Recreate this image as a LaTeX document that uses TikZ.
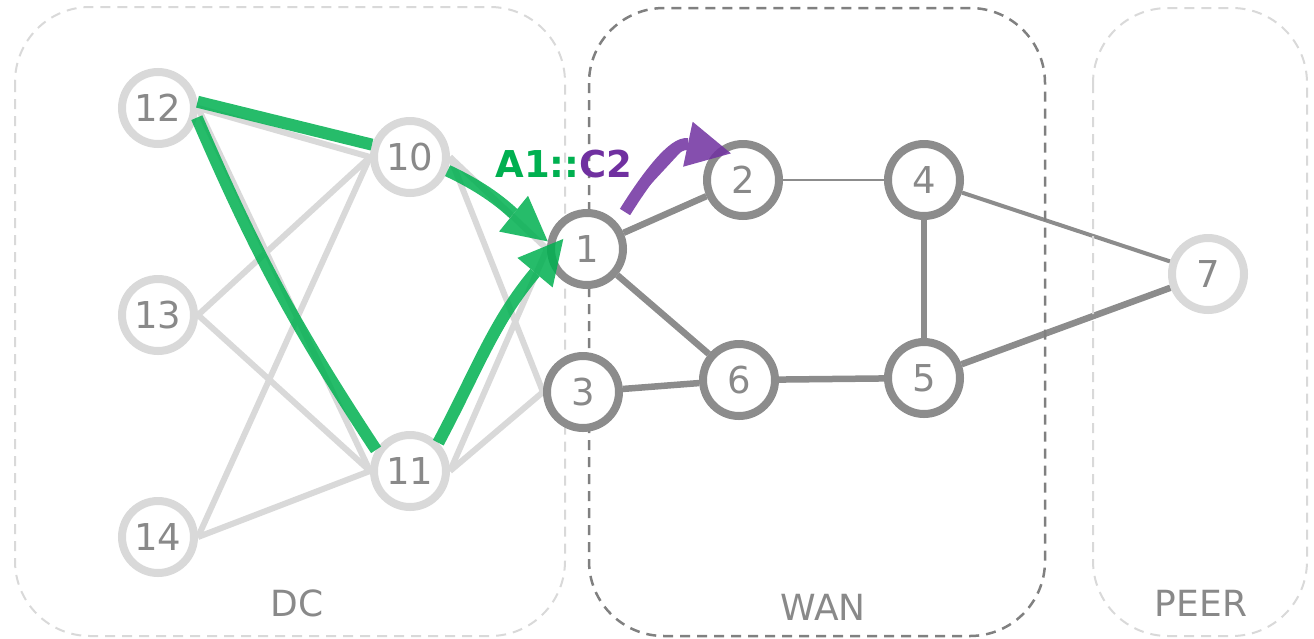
\documentclass[tikz,border=0pt]{standalone}
\usepackage{fontspec}
\newfontfamily\netfont{DejaVu Sans}
\usetikzlibrary{positioning,arrows.meta,backgrounds}

\definecolor{ringlight}{HTML}{D9D9D9}
\definecolor{ringdark}{HTML}{8C8C8C}
\definecolor{txtgray}{HTML}{898989}
\definecolor{boxdark}{HTML}{808080}
\definecolor{pathgreen}{HTML}{00B050}
\definecolor{pathpurple}{HTML}{7030A0}

\tikzset{
  router/.style={circle, minimum size=72pt, inner sep=0pt, line width=8pt,
    fill=white, text=txtgray, font=\netfont\fontsize{37}{37}\selectfont},
  dcnode/.style={router, draw=ringlight},
  wannode/.style={router, draw=ringdark},
  link/.style={line width=6pt, draw=ringlight},
  trunk/.style={line width=6.5pt, draw=ringdark},
  route/.style={line width=12pt, draw=pathgreen, opacity=0.85},
  bigtip/.style={-{Triangle[length=44pt,width=46pt,line width=0pt]}},
  routeend/.style={line width=12pt, draw=pathgreen, fill=pathgreen, bigtip},
  moved/.style={line width=12pt, draw=pathpurple, fill=pathpurple, bigtip},
  zone/.style={dash pattern=on 10pt off 7pt, line width=2pt, rounded corners=75pt},
  zonelabel/.style={text=txtgray, font=\netfont\fontsize{36}{36}\selectfont},
}

\begin{document}
\begin{tikzpicture}[x=1pt, y=-1pt, on grid]
  \useasboundingbox (0,0) rectangle (1314,638);

  % zones
  \draw [zone, draw=ringlight] (15,7) rectangle (565,636);
  \draw [zone, draw=boxdark, line width=2.5pt] (589,8) rectangle (1045,636);
  \draw [zone, draw=ringlight] (1093,8) rectangle (1307,636);
  \node [zonelabel] (dc) at (297,603) {DC};
  \node [zonelabel] (wan) at (823,607) {WAN};
  \node [zonelabel] (peer) at (1201,603) {PEER};

  % routers
  \node [dcnode] (n12) at (158,108) {12};
  \node [dcnode, below=207pt of n12] (n13) {13};
  \node [dcnode, below=222pt of n13] (n14) {14};
  \node [dcnode, below right=49pt and 252pt of n12] (n10) {10};
  \node [dcnode, below=314pt of n10] (n11) {11};
  \node [wannode, below right=92pt and 177pt of n10] (n1) {1};
  \node [wannode, below left=143pt and 4pt of n1] (n3) {3};
  \node [wannode, above right=69pt and 156pt of n1] (n2) {2};
  \node [wannode, below left=200pt and 4pt of n2] (n6) {6};
  \node [wannode, right=181pt of n2] (n4) {4};
  \node [wannode, below=198pt of n4] (n5) {5};
  \node [dcnode, below right=94pt and 284pt of n4] (n7) {7};

  \begin{scope}[on background layer]
    \draw [link] (n12.east) -- (n10.west);
    \draw [link] (n12.east) -- (n11.west);
    \draw [link] (n13.east) -- (n10.west);
    \draw [link] (n13.east) -- (n11.west);
    \draw [link] (n14.east) -- (n10.west);
    \draw [link] (n14.east) -- (n11.west);
    \draw [link] (n10.east) -- (n1.west);
    \draw [link] (n10.east) -- (n3.west);
    \draw [link] (n11.east) -- (n1.west);
    \draw [link] (n11.east) -- (n3.west);
    \draw [trunk] (n1) -- (n2);
    \draw [trunk] (n1) -- (n6);
    \draw [trunk] (n3) -- (n6);
    \draw [trunk] (n6) -- (n5);
    \draw [trunk] (n4) -- (n5);
    \draw [trunk, line width=2.5pt] (n2) -- (n4);
    \draw [trunk, line width=4pt] (n4) -- (n7);
    \draw [trunk] (n5) -- (n7);
  \end{scope}

  % traffic
  \draw [route] (n12.9) -- (n10.162);
  \draw [route] (n12.-14) to [bend right=5] (n11.148);
  \begin{scope}[transparency group, opacity=0.85]
    \draw [routeend] (n10.-20) to [out=-25, in=141] (n1.169);
  \end{scope}
  \begin{scope}[transparency group, opacity=0.85]
    \draw [routeend, shorten >=-24pt] (n11.45) to [out=62, in=-130] (n1.192);
  \end{scope}

  \coordinate (c2from) at (625,212);
  \begin{scope}[transparency group, opacity=0.85]
    \draw [moved, shorten >=-15pt] (c2from) to [out=58, in=168] (n2.132);
  \end{scope}

  \node [anchor=base, font=\netfont\bfseries\fontsize{37}{37}\selectfont] (tag) at (564,177)
    {\textcolor{pathgreen}{A1::}\textcolor{pathpurple}{C2}};
\end{tikzpicture}
\end{document}
